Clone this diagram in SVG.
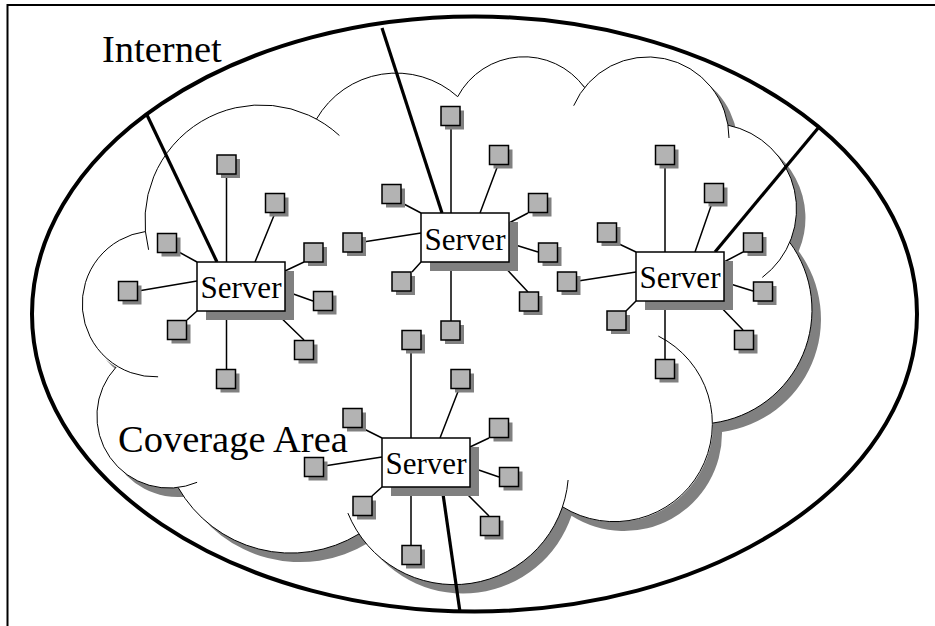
<svg xmlns="http://www.w3.org/2000/svg" xmlns:xlink="http://www.w3.org/1999/xlink" width="935" height="626" viewBox="0 0 935 626">
<style>
.frame{fill:none;stroke:#000;stroke-width:2}
.net{fill:none;stroke:#000;stroke-width:4}
.lobe{fill:none;stroke:#000;stroke-width:1}
.thin{stroke:#000;stroke-width:1.5;fill:none}
.thick{stroke:#000;stroke-width:3.2;fill:none}
.sq{fill:#b3b3b3;stroke:#000;stroke-width:1.5}
.sh{fill:#808080}
.box{fill:#fff;stroke:#000;stroke-width:1.5}
.lbl{font-family:"Liberation Serif","Times New Roman",serif;font-size:38.5px;fill:#000}
.srv{font-family:"Liberation Serif","Times New Roman",serif;font-size:31px;fill:#000;text-anchor:middle}
</style>
<defs>
<path id="cloudShape" d="M145.6,231.5 A116,116 0 0 1 316.4,119.2 A92,92 0 0 1 457.7,96.7 A75,75 0 0 1 584.6,87.6 A81,81 0 0 1 728,125.2 A85.5,85.5 0 0 1 789.7,242.3 A114,114 0 0 1 713,423 A98,98 0 0 1 562.5,506.8 A114.5,114.5 0 0 1 359,533.9 A130,130 0 0 1 178.1,487.5 A72,72 0 0 1 116.2,367 A73,73 0 0 1 145.6,231.5 Z"/>
<g id="term"><rect class="sh" x="4" y="4" width="19" height="19"/><rect class="sq" x="0" y="0" width="19" height="19"/></g>
</defs>
<rect width="935" height="626" fill="#fff"/>
<path class="frame" d="M7.5,626 V5 H935"/>
<g id="internet">
<ellipse class="net" cx="474.5" cy="314" rx="442.5" ry="297.5"/>
<text class="lbl" x="102" y="62">Internet</text>
</g>
<g id="coverage-area">
<use xlink:href="#cloudShape" href="#cloudShape" class="sh" transform="translate(9,9)"/>
<use xlink:href="#cloudShape" href="#cloudShape" fill="#fff"/>
<path class="lobe" d="M148.6,249.8 A116,116 0 0 1 339.4,135.5"/>
<path class="lobe" d="M316.4,119.2 A92,92 0 0 1 457.7,96.7"/>
<path class="lobe" d="M457.7,96.7 A75,75 0 0 1 584.6,87.6"/>
<path class="lobe" d="M573.7,105.7 A81,81 0 0 1 729,138"/>
<path class="lobe" d="M728,125.2 A85.5,85.5 0 0 1 762.3,277.4"/>
<path class="lobe" d="M789.7,242.3 A114,114 0 0 1 713,423"/>
<path class="lobe" d="M658.4,336.1 A98,98 0 1 1 562.5,506.8"/>
<path class="lobe" d="M568.1,480 A114.5,114.5 0 0 1 347.9,513.1"/>
<path class="lobe" d="M359,533.9 A130,130 0 0 1 178.1,487.5"/>
<path class="lobe" d="M197.1,482.3 A72,72 0 0 1 116.2,367"/>
<path class="lobe" d="M158.1,376.8 A73,73 0 0 1 145.6,231.5"/>
<text class="lbl" x="118" y="452">Coverage Area</text>
</g>
<g id="connectors">
<line class="thick" x1="147" y1="115" x2="217" y2="262"/>
<line class="thick" x1="382" y1="28" x2="442" y2="213"/>
<line class="thick" x1="819" y1="127" x2="715" y2="252"/>
<line class="thick" x1="442" y1="487" x2="460" y2="612"/>
<path class="thin" d="M226.5,174V262 M275,213L255,262 M177,251L197,262 M138,291L197,281 M187,320L197,311 M226.5,311V369 M274,311L304,340 M285,271L304,262 M285,291L313,301"/>
<path class="thin" d="M451,126V213 M498,165L480,213 M402,203L421,213 M509,223L528,213 M363,242L421,233 M509,243L538,252 M412,272L421,262 M451,262V321 M500,262L528,292"/>
<path class="thin" d="M665,165V252 M712,203L695,252 M724,262L743,252 M724,282L753,291 M715,301L743,330 M665,301V359 M636,301L626,311 M617,243L636,252 M578,281L636,272"/>
<path class="thin" d="M411,350V438 M459,389L440,438 M362,428L382,438 M470,447L489,438 M470,467L499,477 M460,487L489,516 M411,487V545 M372,496L382,487 M324,466L382,457"/>
</g>
<g id="server1-terminals">
<use href="#term" xlink:href="#term" x="217" y="155"/>
<use href="#term" xlink:href="#term" x="265.5" y="193.5"/>
<use href="#term" xlink:href="#term" x="157.5" y="233.5"/>
<use href="#term" xlink:href="#term" x="118.5" y="281.5"/>
<use href="#term" xlink:href="#term" x="167.5" y="320.5"/>
<use href="#term" xlink:href="#term" x="216.5" y="369.5"/>
<use href="#term" xlink:href="#term" x="294.5" y="340.5"/>
<use href="#term" xlink:href="#term" x="304" y="243"/>
<use href="#term" xlink:href="#term" x="313.5" y="291.5"/>
</g>
<g id="server2-terminals">
<use href="#term" xlink:href="#term" x="441" y="106.5"/>
<use href="#term" xlink:href="#term" x="489.5" y="145.5"/>
<use href="#term" xlink:href="#term" x="382" y="184.5"/>
<use href="#term" xlink:href="#term" x="528.5" y="193.5"/>
<use href="#term" xlink:href="#term" x="343" y="233"/>
<use href="#term" xlink:href="#term" x="538.5" y="243"/>
<use href="#term" xlink:href="#term" x="392" y="272"/>
<use href="#term" xlink:href="#term" x="441" y="321"/>
<use href="#term" xlink:href="#term" x="519.5" y="292"/>
</g>
<g id="server3-terminals">
<use href="#term" xlink:href="#term" x="655.5" y="145.5"/>
<use href="#term" xlink:href="#term" x="704.5" y="183.5"/>
<use href="#term" xlink:href="#term" x="743.5" y="233"/>
<use href="#term" xlink:href="#term" x="753.5" y="282"/>
<use href="#term" xlink:href="#term" x="734.5" y="330.5"/>
<use href="#term" xlink:href="#term" x="655.5" y="359.5"/>
<use href="#term" xlink:href="#term" x="607" y="311"/>
<use href="#term" xlink:href="#term" x="597.5" y="223"/>
<use href="#term" xlink:href="#term" x="557.5" y="272"/>
</g>
<g id="server4-terminals">
<use href="#term" xlink:href="#term" x="402" y="330.5"/>
<use href="#term" xlink:href="#term" x="451" y="369.5"/>
<use href="#term" xlink:href="#term" x="343" y="408.5"/>
<use href="#term" xlink:href="#term" x="489.5" y="418.5"/>
<use href="#term" xlink:href="#term" x="499.5" y="467.5"/>
<use href="#term" xlink:href="#term" x="480.5" y="516.5"/>
<use href="#term" xlink:href="#term" x="402" y="545.5"/>
<use href="#term" xlink:href="#term" x="353" y="496.5"/>
<use href="#term" xlink:href="#term" x="304.5" y="457.5"/>
</g>
<g id="server1">
<rect class="sh" x="206" y="271" width="88" height="49"/>
<rect class="box" x="197" y="262" width="88" height="49"/>
<text class="srv" x="241" y="298">Server</text>
</g>
<g id="server2">
<rect class="sh" x="430" y="222" width="88" height="49"/>
<rect class="box" x="421" y="213" width="88" height="49"/>
<text class="srv" x="465" y="250">Server</text>
</g>
<g id="server3">
<rect class="sh" x="645" y="261" width="88" height="49"/>
<rect class="box" x="636" y="252" width="88" height="49"/>
<text class="srv" x="680" y="288">Server</text>
</g>
<g id="server4">
<rect class="sh" x="391" y="447" width="88" height="49"/>
<rect class="box" x="382" y="438" width="88" height="49"/>
<text class="srv" x="426" y="473.5">Server</text>
</g>
</svg>
